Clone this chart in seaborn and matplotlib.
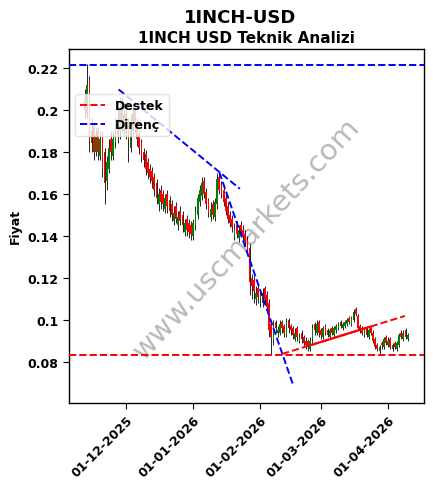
import pandas as pd
import numpy as np
import matplotlib
matplotlib.use("Agg")
import matplotlib.pyplot as plt
import matplotlib.dates as mdates
import seaborn as sns

# daily candles, 12 Nov 2025 .. 10 Apr 2026
start_date = "2025-11-12"

opens = [
    # Nov 12-30
    0.205, 0.198, 0.214, 0.184, 0.192, 0.180, 0.190, 0.178, 0.188, 0.180,
    0.166, 0.172, 0.186, 0.178, 0.184, 0.196, 0.190, 0.204, 0.190,
    # Dec
    0.198, 0.194, 0.182, 0.190, 0.200, 0.194, 0.188, 0.184, 0.180, 0.179,
    0.175, 0.172, 0.171, 0.168, 0.165, 0.155, 0.162, 0.160, 0.153, 0.160,
    0.157, 0.155, 0.147, 0.154, 0.145, 0.152, 0.150, 0.142, 0.148, 0.146,
    0.145,
    # Jan
    0.140, 0.145, 0.150, 0.156, 0.159, 0.166, 0.161, 0.157, 0.149, 0.155,
    0.149, 0.155, 0.168, 0.164, 0.162, 0.158, 0.154, 0.150, 0.148, 0.140,
    0.145, 0.139, 0.145, 0.143, 0.141, 0.138, 0.134, 0.120, 0.119, 0.110,
    0.115,
    # Feb
    0.112, 0.108, 0.115, 0.112, 0.108, 0.098, 0.090, 0.099, 0.094, 0.094,
    0.099, 0.097, 0.093, 0.100, 0.097, 0.096, 0.091, 0.096, 0.090, 0.094,
    0.092, 0.090, 0.090, 0.086, 0.091, 0.098, 0.094, 0.099,
    # Mar
    0.095, 0.092, 0.097, 0.095, 0.092, 0.096, 0.093, 0.095, 0.096, 0.099,
    0.096, 0.097, 0.098, 0.101, 0.098, 0.100, 0.105, 0.102, 0.097, 0.096,
    0.093, 0.096, 0.092, 0.096, 0.094, 0.091, 0.088, 0.085, 0.089, 0.087,
    0.092,
    # Apr 1-10
    0.088, 0.091, 0.086, 0.089, 0.086, 0.088, 0.094, 0.091, 0.095, 0.091,
]

closes = [
    0.200, 0.212, 0.185, 0.190, 0.180, 0.188, 0.180, 0.186, 0.172, 0.165,
    0.175, 0.182, 0.180, 0.186, 0.192, 0.188, 0.200, 0.194, 0.198,
    0.190, 0.186, 0.194, 0.198, 0.192, 0.186, 0.182, 0.178, 0.176, 0.172,
    0.170, 0.168, 0.166, 0.162, 0.158, 0.160, 0.156, 0.155, 0.158, 0.154,
    0.152, 0.150, 0.151, 0.148, 0.149, 0.147, 0.145, 0.146, 0.143, 0.142,
    0.141,
    0.146, 0.152, 0.158, 0.162, 0.165, 0.160, 0.155, 0.151, 0.153, 0.150,
    0.156, 0.167, 0.162, 0.160, 0.156, 0.152, 0.148, 0.146, 0.144, 0.143,
    0.141, 0.143, 0.142, 0.140, 0.137, 0.133, 0.118, 0.116, 0.114, 0.113,
    0.111,
    0.110, 0.113, 0.110, 0.106, 0.095, 0.092, 0.097, 0.096, 0.095, 0.098,
    0.096, 0.094, 0.099, 0.096, 0.095, 0.093, 0.094, 0.092, 0.092, 0.091,
    0.089, 0.088, 0.087, 0.090, 0.096, 0.095, 0.098, 0.094,
    0.093, 0.096, 0.094, 0.093, 0.095, 0.094, 0.096, 0.097, 0.098, 0.097,
    0.098, 0.099, 0.100, 0.099, 0.101, 0.104, 0.103, 0.096, 0.095, 0.094,
    0.095, 0.093, 0.095, 0.094, 0.090, 0.087, 0.086, 0.087, 0.088, 0.091,
    0.089,
    0.090, 0.087, 0.088, 0.087, 0.089, 0.093, 0.092, 0.094, 0.092, 0.093,
]

highs = [
    0.210, 0.222, 0.216, 0.196, 0.194, 0.192, 0.192, 0.190, 0.190, 0.182,
    0.178, 0.186, 0.190, 0.190, 0.196, 0.200, 0.206, 0.206, 0.202,
    0.200, 0.196, 0.198, 0.203, 0.202, 0.196, 0.190, 0.186, 0.182, 0.181,
    0.177, 0.174, 0.173, 0.170, 0.167, 0.163, 0.164, 0.162, 0.160, 0.162,
    0.159, 0.157, 0.154, 0.156, 0.152, 0.154, 0.152, 0.148, 0.150, 0.148,
    0.147,
    0.148, 0.154, 0.160, 0.164, 0.168, 0.168, 0.163, 0.158, 0.156, 0.157,
    0.158, 0.170, 0.170, 0.166, 0.164, 0.160, 0.156, 0.152, 0.150, 0.146,
    0.147, 0.145, 0.147, 0.145, 0.143, 0.140, 0.136, 0.122, 0.121, 0.116,
    0.117,
    0.114, 0.115, 0.116, 0.114, 0.110, 0.100, 0.100, 0.100, 0.097, 0.100,
    0.100, 0.098, 0.101, 0.101, 0.098, 0.097, 0.096, 0.097, 0.094, 0.095,
    0.093, 0.092, 0.091, 0.092, 0.098, 0.099, 0.100, 0.100,
    0.096, 0.097, 0.098, 0.096, 0.096, 0.097, 0.097, 0.098, 0.099, 0.100,
    0.099, 0.100, 0.101, 0.102, 0.102, 0.105, 0.106, 0.103, 0.098, 0.097,
    0.096, 0.097, 0.096, 0.097, 0.095, 0.092, 0.089, 0.088, 0.090, 0.092,
    0.093,
    0.092, 0.092, 0.089, 0.090, 0.090, 0.094, 0.095, 0.095, 0.096, 0.094,
]

lows = [
    0.196, 0.196, 0.180, 0.180, 0.176, 0.178, 0.176, 0.176, 0.168, 0.155,
    0.162, 0.170, 0.176, 0.176, 0.182, 0.184, 0.186, 0.190, 0.188,
    0.186, 0.175, 0.180, 0.188, 0.189, 0.183, 0.179, 0.175, 0.173, 0.169,
    0.167, 0.165, 0.163, 0.159, 0.155, 0.152, 0.153, 0.152, 0.151, 0.151,
    0.149, 0.147, 0.145, 0.146, 0.143, 0.145, 0.142, 0.140, 0.140, 0.139,
    0.138,
    0.138, 0.143, 0.148, 0.154, 0.157, 0.158, 0.153, 0.149, 0.147, 0.148,
    0.147, 0.153, 0.160, 0.158, 0.154, 0.150, 0.146, 0.144, 0.142, 0.138,
    0.139, 0.137, 0.140, 0.138, 0.135, 0.131, 0.112, 0.110, 0.108, 0.107,
    0.108,
    0.106, 0.106, 0.108, 0.104, 0.092, 0.0838, 0.088, 0.094, 0.092, 0.093,
    0.094, 0.092, 0.092, 0.094, 0.093, 0.091, 0.090, 0.090, 0.089, 0.089,
    0.087, 0.086, 0.085, 0.085, 0.089, 0.093, 0.093, 0.092,
    0.091, 0.091, 0.093, 0.092, 0.091, 0.093, 0.092, 0.094, 0.095, 0.096,
    0.095, 0.096, 0.097, 0.098, 0.097, 0.099, 0.102, 0.095, 0.094, 0.093,
    0.092, 0.092, 0.091, 0.093, 0.089, 0.086, 0.085, 0.084, 0.086, 0.086,
    0.088,
    0.087, 0.086, 0.085, 0.086, 0.085, 0.087, 0.091, 0.090, 0.091, 0.090,
]

# support / resistance levels
support_level = 0.0833
resistance_level = 0.2214

# trend lines (dates, prices)
res_trend1_x = ["2025-11-27 12:00", "2026-01-22 12:00"]
res_trend1_y = [0.2097, 0.1624]
res_trend2_x = ["2026-01-13 00:00", "2026-02-16 05:00"]
res_trend2_y = [0.1703, 0.0687]
sup_trend_x = ["2026-02-11 00:00", "2026-04-08 18:00"]
sup_trend_y = [0.0838, 0.1019]
sup_solid_x = ["2026-02-24 12:00", "2026-03-24 00:00"]

n = min(len(opens), len(closes), len(highs), len(lows))
dates = pd.date_range(start_date, periods=n, freq="D")
df = pd.DataFrame({"date": dates, "open": opens[:n], "close": closes[:n],
                   "high": highs[:n], "low": lows[:n]})
up = df["close"] >= df["open"]

sns.set_style("ticks")
plt.rcParams["font.family"] = ["DejaVu Sans"]
plt.rcParams["font.weight"] = "bold"
plt.rcParams["text.color"] = "black"
plt.rcParams["axes.labelcolor"] = "black"

fig = plt.figure(figsize=(4.33, 4.89), dpi=100)
ax = fig.add_axes([0.159, 0.174, 0.820, 0.724])

# wicks
ax.vlines(df["date"], df["low"], df["high"], color="black", linewidth=0.6, zorder=2)
# bodies
body_bottom = np.minimum(df["open"], df["close"])
body_height = np.abs(df["close"] - df["open"]).clip(lower=0.0004)
colors = np.where(up, "green", "red")
ax.bar(df["date"], body_height, bottom=body_bottom, width=0.8,
       color=colors, linewidth=0, zorder=3)

ax.axhline(support_level, color="red", linestyle="--", linewidth=1.4, label="Destek", zorder=4)
ax.axhline(resistance_level, color="blue", linestyle="--", linewidth=1.4, label="Direnç", zorder=4)

def to_dt(xs):
    return pd.to_datetime(xs, format="%Y-%m-%d %H:%M")

def trend(xs, ys, color, ls):
    t = pd.DataFrame({"x": to_dt(xs), "y": ys})
    sns.lineplot(data=t, x="x", y="y", color=color, linestyle=ls, linewidth=1.4, ax=ax, zorder=4)

trend(res_trend1_x, res_trend1_y, "blue", "--")
trend(res_trend2_x, res_trend2_y, "blue", "--")
trend(sup_trend_x, sup_trend_y, "red", "--")
# solid part of the support trend
sx = to_dt(sup_solid_x)
t0, t1 = to_dt(sup_trend_x)
frac = [(s - t0) / (t1 - t0) for s in sx]
sy = [sup_trend_y[0] + f * (sup_trend_y[1] - sup_trend_y[0]) for f in frac]
sns.lineplot(x=sx, y=sy, color="red", linewidth=1.6, ax=ax, zorder=4)

ax.set_xlim(pd.Timestamp("2025-11-04 12:00"), pd.Timestamp("2026-04-17 12:00"))
ax.set_ylim(0.0605, 0.229)
ax.set_yticks([0.08, 0.10, 0.12, 0.14, 0.16, 0.18, 0.20, 0.22])
ax.set_yticklabels(["0.08", "0.1", "0.12", "0.14", "0.16", "0.18", "0.2", "0.22"])
ax.set_xticks(pd.to_datetime(["2025-12-01", "2026-01-01", "2026-02-01", "2026-03-01", "2026-04-01"]))
ax.xaxis.set_major_formatter(mdates.DateFormatter("%d-%m-%Y"))
plt.setp(ax.get_xticklabels(), rotation=45, ha="right", rotation_mode="anchor",
         fontsize=9, fontweight="bold", color="black")
plt.setp(ax.get_yticklabels(), fontsize=9, fontweight="bold", color="black")
ax.tick_params(axis="both", length=4, width=0.8, colors="black")
for s in ax.spines.values():
    s.set_visible(True)
    s.set_color("black")
    s.set_linewidth(1.0)

ax.set_xlabel("")
ax.set_ylabel("Fiyat", fontsize=9, fontweight="bold", color="black")
ax.set_title("1INCH USD Teknik Analizi", fontsize=11, fontweight="bold", pad=5, color="black")
fig.suptitle("1INCH-USD", fontsize=13, fontweight="bold", x=0.555, y=0.982, color="black")

ax.text(0.5, 0.465, "www.uscmarkets.com", transform=ax.transAxes, fontsize=21,
        color="gray", alpha=0.55, rotation=47, ha="center", va="center",
        fontweight="normal", zorder=1)

handles, labels = ax.get_legend_handles_labels()
leg = ax.legend(handles[:2], labels[:2], loc="upper left", bbox_to_anchor=(0.0, 0.89),
                prop={"weight": "bold", "size": 9}, framealpha=0.8,
                edgecolor="#dddddd", handlelength=2)
for t in leg.get_texts():
    t.set_color("black")

fig.savefig("out.png", dpi=100)
